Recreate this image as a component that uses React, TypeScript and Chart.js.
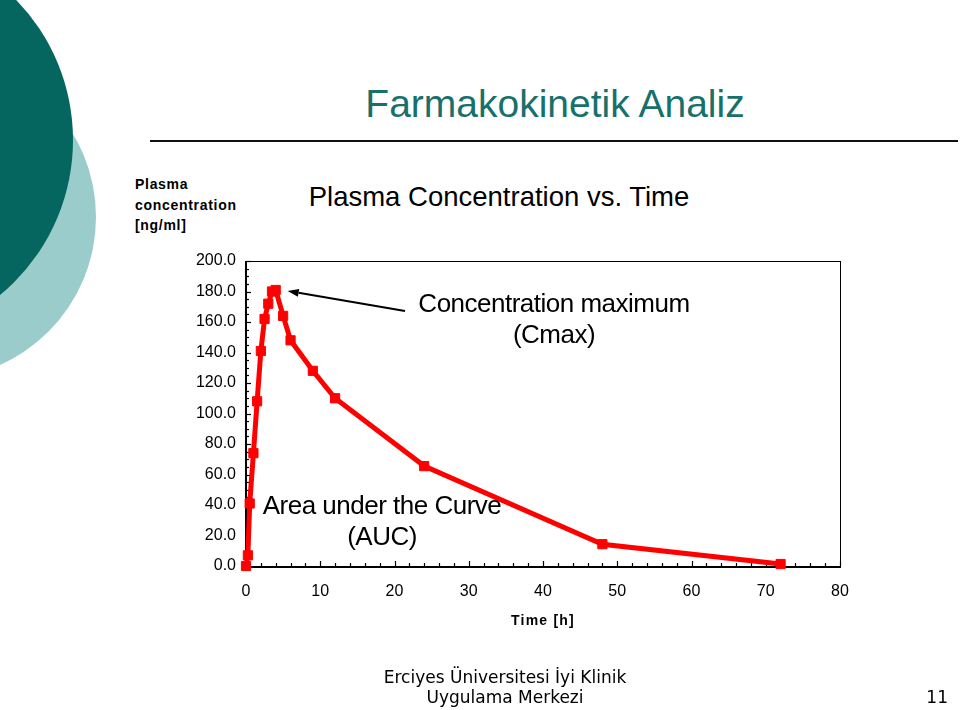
import React, { useEffect, useRef } from "react";
import { Chart, registerables } from "chart.js";

Chart.register(...registerables);

// ---- data ----
const timeHours = [0, 0.25, 0.5, 1, 1.5, 2, 2.5, 3, 3.5, 4, 5, 6, 9, 12, 24, 48, 72];
const plasmaConc = [0, 7, 41, 74, 108, 141, 162, 172, 180, 181, 164, 148, 128, 110, 65.5, 14.3, 1.3];
const xTickValues = [0, 10, 20, 30, 40, 50, 60, 70, 80];
const yTickValues = [0, 20, 40, 60, 80, 100, 120, 140, 160, 180, 200];
const xMinorStep = 2;
const yMinorStep = 5;

const slideTitle = "Farmakokinetik Analiz";
const chartTitle = "Plasma Concentration vs. Time";
const yTitleLines = ["Plasma", "concentration", "[ng/ml]"];
const xTitle = "Time [h]";
const cmaxLines = ["Concentration maximum", "(Cmax)"];
const aucLines = ["Area under the Curve", "(AUC)"];
const footerLines = ["Erciyes Üniversitesi İyi Klinik", "Uygulama Merkezi"];
const pageNumber = "11";

const FONT = '"Liberation Sans", Arial, sans-serif';

const framePlugin = {
  id: "frame",
  beforeDatasetsDraw(chart: any) {
    const { ctx, chartArea, scales } = chart;
    const { left, right, top, bottom } = chartArea;
    ctx.save();
    ctx.strokeStyle = "#000";
    ctx.lineWidth = 1;
    ctx.strokeRect(left + 0.5, top + 0.5, right - left, bottom - top);
    ctx.lineWidth = 2;
    ctx.beginPath();
    ctx.moveTo(left, top);
    ctx.lineTo(left, bottom + 1);
    ctx.lineTo(right + 1, bottom + 1);
    ctx.stroke();
    ctx.lineWidth = 1.2;
    const xs = scales.x;
    const ys = scales.y;
    for (let v = xs.min; v <= xs.max + 1e-9; v += xMinorStep) {
      const px = Math.round(xs.getPixelForValue(v)) + 0.5;
      const len = xTickValues.includes(v) ? 5 : 3;
      ctx.beginPath();
      ctx.moveTo(px, bottom);
      ctx.lineTo(px, bottom - len);
      ctx.stroke();
    }
    for (let v = ys.min; v <= ys.max + 1e-9; v += yMinorStep) {
      const py = Math.round(ys.getPixelForValue(v)) + 0.5;
      const len = yTickValues.includes(v) ? 5 : 3;
      ctx.beginPath();
      ctx.moveTo(left, py);
      ctx.lineTo(left + len, py);
      ctx.stroke();
    }
    ctx.restore();
  },
  afterDatasetsDraw(chart: any) {
    const { ctx, scales } = chart;
    const xs = scales.x;
    const ys = scales.y;
    // arrow to Cmax
    let iMax = 0;
    plasmaConc.forEach((c, i) => {
      if (c > plasmaConc[iMax]) iMax = i;
    });
    const tipX = xs.getPixelForValue(timeHours[iMax]) + 12;
    const tipY = ys.getPixelForValue(plasmaConc[iMax]) + 1;
    const tailX = 405;
    const tailY = 311;
    ctx.save();
    ctx.strokeStyle = "#000";
    ctx.fillStyle = "#000";
    ctx.lineWidth = 2;
    const ang = Math.atan2(tipY - tailY, tipX - tailX);
    const headLen = 11;
    const headW = 4;
    const bx = tipX - headLen * Math.cos(ang);
    const by = tipY - headLen * Math.sin(ang);
    ctx.beginPath();
    ctx.moveTo(tailX, tailY);
    ctx.lineTo(bx, by);
    ctx.stroke();
    ctx.beginPath();
    ctx.moveTo(tipX, tipY);
    ctx.lineTo(bx + headW * Math.sin(ang), by - headW * Math.cos(ang));
    ctx.lineTo(bx - headW * Math.sin(ang), by + headW * Math.cos(ang));
    ctx.closePath();
    ctx.fill();

    ctx.font = `26px ${FONT}`;
    (ctx as any).letterSpacing = "-0.5px";
    ctx.textAlign = "center";
    ctx.textBaseline = "middle";
    ctx.fillText(cmaxLines[0], 554, 305);
    ctx.fillText(cmaxLines[1], 554, 336);
    ctx.fillText(aucLines[0], 382, 507);
    ctx.fillText(aucLines[1], 382, 538);
    ctx.restore();
  },
};

export default function App() {
  const canvasRef = useRef<HTMLCanvasElement | null>(null);

  useEffect(() => {
    const canvas = canvasRef.current;
    if (!canvas) return;
    const chart = new Chart(canvas, {
      type: "line",
      data: {
        datasets: [
          {
            data: timeHours.map((t, i) => ({ x: t, y: plasmaConc[i] })),
            borderColor: "#ff0000",
            backgroundColor: "#ff0000",
            borderWidth: 5,
            pointStyle: "rect",
            pointRadius: 6.5,
            pointBorderWidth: 1,
            pointBorderColor: "#ff0000",
            tension: 0,
            clip: false as any,
          },
        ],
      },
      options: {
        animation: false,
        responsive: false,
        devicePixelRatio: 1,
        layout: { padding: { top: 261, right: 120, left: 0, bottom: 0 } },
        plugins: {
          legend: { display: false },
          tooltip: { enabled: false },
          title: { display: false },
        },
        scales: {
          x: {
            type: "linear",
            min: 0,
            max: 80,
            grid: { display: false, drawTicks: false },
            border: { display: false },
            afterBuildTicks: (scale: any) => {
              scale.ticks = xTickValues.map((v) => ({ value: v }));
            },
            afterFit: (scale: any) => {
              scale.height = 144;
            },
            ticks: {
              color: "#000",
              font: { family: FONT, size: 16 },
              padding: 16,
              maxRotation: 0,
              autoSkip: false,
              callback: (v: any) => String(v),
            },
          },
          y: {
            type: "linear",
            min: 0,
            max: 200,
            grid: { display: false, drawTicks: false },
            border: { display: false },
            afterBuildTicks: (scale: any) => {
              scale.ticks = yTickValues.map((v) => ({ value: v }));
            },
            afterFit: (scale: any) => {
              scale.width = 246;
            },
            ticks: {
              color: "#000",
              font: { family: FONT, size: 16 },
              padding: 10,
              callback: (v: any) => Number(v).toFixed(1),
            },
          },
        },
      },
      plugins: [framePlugin],
    });
    return () => chart.destroy();
  }, []);

  const abs = (s: React.CSSProperties): React.CSSProperties => ({ position: "absolute", ...s });

  return (
    <div
      style={{
        position: "fixed",
        left: 0,
        top: 0,
        width: 960,
        height: 710,
        overflow: "hidden",
        background: "#fff",
        fontFamily: FONT,
      }}
    >
      <div style={abs({ left: -228, top: 55, width: 324, height: 324, borderRadius: "50%", background: "#9bcccc" })} />
      <div style={abs({ left: -329, top: -61, width: 402, height: 402, borderRadius: "50%", background: "#04665f" })} />
      <div
        style={abs({
          left: 255,
          width: 600,
          top: 80,
          textAlign: "center",
          fontSize: 39,
          lineHeight: "48px",
          color: "#17716a",
        })}
      >
        {slideTitle}
      </div>
      <div style={abs({ left: 150, top: 140, width: 808, height: 2, background: "#111" })} />
      <div
        style={abs({
          left: 199,
          width: 600,
          top: 181,
          textAlign: "center",
          fontSize: 27.5,
          lineHeight: "32px",
          color: "#000",
        })}
      >
        {chartTitle}
      </div>
      <div
        style={abs({
          left: 135,
          top: 174,
          fontSize: 14,
          fontWeight: "bold",
          lineHeight: "20.5px",
          letterSpacing: "0.7px",
          color: "#000",
        })}
      >
        {yTitleLines.map((l, i) => (
          <div key={i}>{l}</div>
        ))}
      </div>
      <canvas ref={canvasRef} width={960} height={710} style={abs({ left: 0, top: 0, width: 960, height: 710 })} />
      <div
        style={abs({
          left: 443,
          width: 200,
          top: 610,
          textAlign: "center",
          fontSize: 14,
          fontWeight: "bold",
          letterSpacing: "1.2px",
          lineHeight: "20px",
          color: "#000",
        })}
      >
        {xTitle}
      </div>
      <div
        style={abs({
          left: 305,
          width: 400,
          top: 667,
          textAlign: "center",
          fontFamily: '"DejaVu Sans", Verdana, sans-serif',
          fontSize: 17,
          lineHeight: "20px",
          color: "#000",
        })}
      >
        {footerLines.map((l, i) => (
          <div key={i}>{l}</div>
        ))}
      </div>
      <div
        style={abs({
          right: 12,
          top: 687,
          fontFamily: '"DejaVu Sans", Verdana, sans-serif',
          fontSize: 17,
          lineHeight: "20px",
          color: "#000",
        })}
      >
        {pageNumber}
      </div>
    </div>
  );
}
